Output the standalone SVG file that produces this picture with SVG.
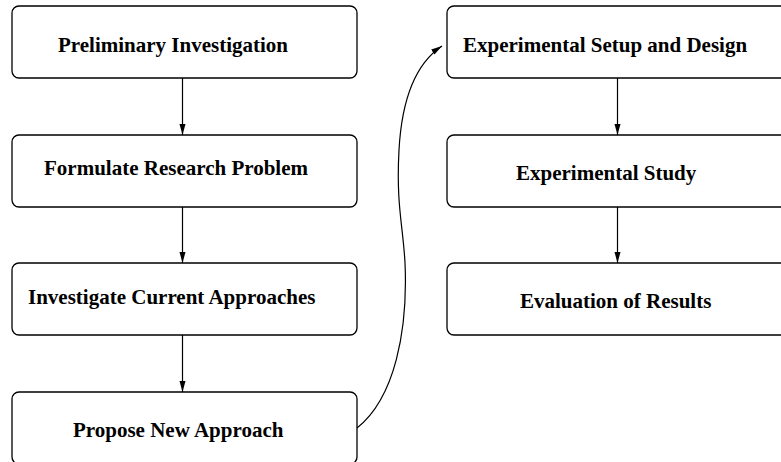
<svg xmlns="http://www.w3.org/2000/svg" width="781" height="462" viewBox="0 0 781 462">
<style>
.box{fill:#fff;stroke:#000;stroke-width:1.3}
.lbl{font-family:"Liberation Serif","Times New Roman",serif;font-weight:bold;font-size:21px;fill:#000}
.edge{fill:none;stroke:#000;stroke-width:1.2}
</style>
<defs>
<marker id="ah" markerWidth="12" markerHeight="8" refX="11" refY="4" orient="auto" markerUnits="userSpaceOnUse">
<path d="M0,1 L11,4 L0,7 Z" fill="#000"/>
</marker>
</defs>
<g id="n1"><rect class="box" x="12" y="6" width="345" height="72" rx="7"/><text class="lbl" x="58" y="52">Preliminary Investigation</text></g>
<g id="n2"><rect class="box" x="12" y="135" width="345" height="72" rx="7"/><text class="lbl" x="44" y="175">Formulate Research Problem</text></g>
<g id="n3"><rect class="box" x="12" y="263" width="345" height="72" rx="7"/><text class="lbl" x="28" y="304">Investigate Current Approaches</text></g>
<g id="n4"><rect class="box" x="12" y="392" width="345" height="72" rx="7"/><text class="lbl" x="73" y="437">Propose New Approach</text></g>
<g id="n5"><rect class="box" x="447" y="6" width="345" height="72" rx="7"/><text class="lbl" x="463" y="52">Experimental Setup and Design</text></g>
<g id="n6"><rect class="box" x="447" y="135" width="345" height="72" rx="7"/><text class="lbl" x="516" y="180">Experimental Study</text></g>
<g id="n7"><rect class="box" x="447" y="263" width="345" height="72" rx="7"/><text class="lbl" x="520" y="308">Evaluation of Results</text></g>
<g id="edges">
<path class="edge" d="M182.5,78 V135" marker-end="url(#ah)"/>
<path class="edge" d="M182.5,207 V263" marker-end="url(#ah)"/>
<path class="edge" d="M182.5,335 V392" marker-end="url(#ah)"/>
<path class="edge" d="M617.5,78 V135" marker-end="url(#ah)"/>
<path class="edge" d="M617.5,207 V263" marker-end="url(#ah)"/>
<path class="edge" d="M357,428 C395,398 408,330 405,263 C403,225 396,205 399,150 C402,95 418,62 442,46" marker-end="url(#ah)"/>
</g>
</svg>
